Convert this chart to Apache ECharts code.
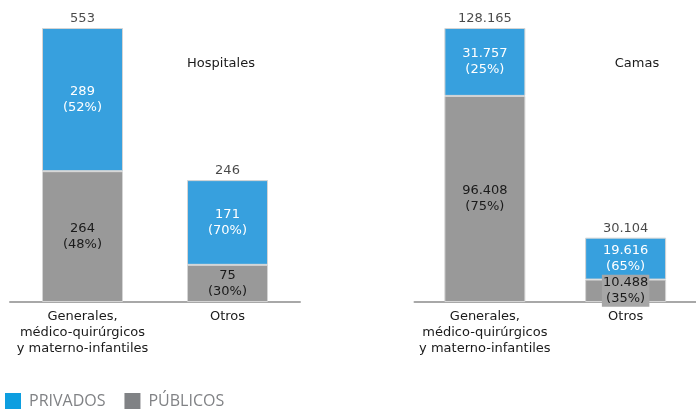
<!DOCTYPE html>
<html><head><meta charset="utf-8">
<script src="https://cdn.jsdelivr.net/npm/echarts@6/dist/echarts.min.js"></script>
<style>html,body{margin:0;padding:0;background:#fff}#c{width:696px;height:412px}</style>
</head><body><div id="c"></div>
<script>
const categories = ['Generales,\nmédico-quirúrgicos\ny materno-infantiles', 'Otros'];
const hospPrivados = [289, 171];
const hospPublicos = [264, 75];
const hospPrivPct = [52, 70];
const hospPubPct = [48, 30];
const hospTotales = [553, 246];
const camasPrivados = [31757, 19616];
const camasPublicos = [96408, 10488];
const camasPrivPct = [25, 65];
const camasPubPct = [75, 35];
const camasTotales = [128165, 30104];
const panelTitles = ['Hospitales', 'Camas'];
const legendNames = ['PRIVADOS', 'PÚBLICOS'];

const BLUE = '#37a0de', GRAY = '#999999';
const FONT = '"DejaVu Sans", Verdana, sans-serif';
const fmt = v => String(v).replace(/\B(?=(\d{3})+(?!\d))/g, '.');

const chart = echarts.init(document.getElementById('c'));

function barSeries(name, idx, values, pcts, color, textColor, extraLabel) {
  return {
    name: name, type: 'bar', stack: 's' + idx, xAxisIndex: idx, yAxisIndex: idx,
    barWidth: 81,
    data: values.map((v, i) => {
      const d = { value: v };
      if (extraLabel && extraLabel[i]) d.label = extraLabel[i];
      return d;
    }),
    itemStyle: { color: color, borderColor: '#d4d4d4', borderWidth: 1 },
    label: {
      show: true, position: 'inside', color: textColor, fontFamily: FONT, fontSize: 13, lineHeight: 16,
      formatter: p => fmt(values[p.dataIndex]) + '\n(' + pcts[p.dataIndex] + '%)'
    },
    emphasis: { disabled: true }, animation: false
  };
}
function totalSeries(idx, totals) {
  return {
    type: 'scatter', xAxisIndex: idx, yAxisIndex: idx, symbolSize: 0,
    data: totals,
    label: { show: true, position: 'top', distance: 3, color: '#1a1a1a', fontFamily: FONT, fontSize: 13,
      formatter: p => fmt(totals[p.dataIndex]) },
    silent: true, animation: false
  };
}
function xAx(idx) {
  return {
    type: 'category', gridIndex: idx, data: categories,
    axisLine: { lineStyle: { color: '#a8a8a8', width: 2 } },
    axisTick: { show: false },
    axisLabel: { interval: 0, color: '#1a1a1a', fontFamily: FONT, fontSize: 13, lineHeight: 16, margin: 7 }
  };
}
function yAx(idx, max) {
  return { type: 'value', gridIndex: idx, min: 0, max: max, show: false, splitLine: { show: false } };
}

chart.setOption({
  animation: false,
  grid: [
    { left: 10, top: 28, width: 290, height: 274 },
    { left: 414.5, top: 28, width: 291, height: 274 }
  ],
  xAxis: [xAx(0), xAx(1)],
  yAxis: [yAx(0, hospTotales[0]), yAx(1, camasTotales[0])],
  legend: {
    left: 5, top: 393, padding: 0, itemWidth: 16, itemHeight: 16, itemGap: 19, icon: 'rect',
    selectedMode: false,
    textStyle: { color: '#808285', fontFamily: '"Open Sans", sans-serif', fontSize: 16, padding: [0, 0, 0, 3] },
    data: [
      { name: legendNames[0], itemStyle: { color: '#0d9ee0', borderWidth: 0 } },
      { name: legendNames[1], itemStyle: { color: '#808285', borderWidth: 0 } }
    ]
  },
  graphic: [
    { type: 'text', x: 221, y: 64, style: { text: panelTitles[0], align: 'center', verticalAlign: 'middle', font: '13px ' + FONT, fill: '#1a1a1a' } },
    { type: 'text', x: 637, y: 64, style: { text: panelTitles[1], align: 'center', verticalAlign: 'middle', font: '13px ' + FONT, fill: '#1a1a1a' } }
  ],
  series: [
    barSeries(legendNames[1], 0, hospPublicos, hospPubPct, GRAY, '#1a1a1a'),
    barSeries(legendNames[0], 0, hospPrivados, hospPrivPct, BLUE, '#ffffff'),
    totalSeries(0, hospTotales),
    barSeries(legendNames[1], 1, camasPublicos, camasPubPct, GRAY, '#1a1a1a',
      [null, { backgroundColor: '#a6a6a6', padding: [0, 1] }]),
    barSeries(legendNames[0], 1, camasPrivados, camasPrivPct, BLUE, '#ffffff'),
    totalSeries(1, camasTotales)
  ]
});
</script></body></html>
